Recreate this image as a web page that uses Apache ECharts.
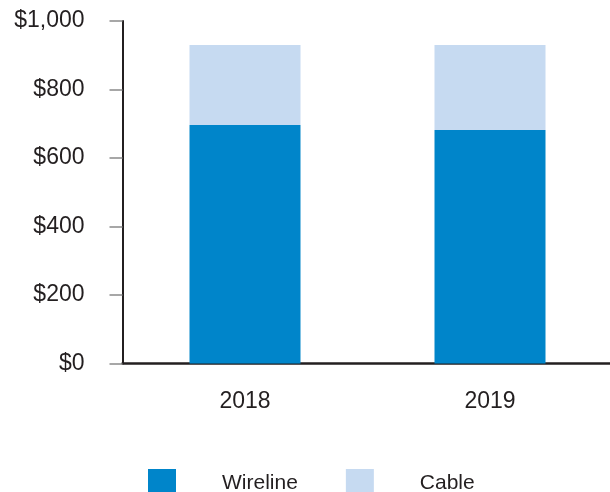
<!DOCTYPE html>
<html>
<head>
<meta charset="utf-8">
<script src="https://cdn.jsdelivr.net/npm/echarts@6/dist/echarts.min.js"></script>
<style>
  html, body { margin: 0; padding: 0; background: #ffffff; }
  #chart { width: 610px; height: 492px; }
</style>
</head>
<body>
<div id="chart"></div>
<script>
// Revenue by segment, in millions of dollars
const years = ['2018', '2019'];
const wireline = [696, 682];
const cable = [234, 248];
const yTicks = [0, 200, 400, 600, 800, 1000];

const textColor = '#231f20';
const font = '"Liberation Sans", Arial, Helvetica, sans-serif';

const chart = echarts.init(document.getElementById('chart'), null, { renderer: 'canvas' });

chart.setOption({
  animation: false,
  backgroundColor: '#ffffff',
  grid: {
    left: 122.5,
    width: 490,
    top: 21,
    bottom: 128.5,
    containLabel: false,
    outerBoundsMode: 'none'
  },
  legend: {
    left: 148,
    top: 469,
    padding: 0,
    itemWidth: 28,
    itemHeight: 28,
    itemGap: 48,
    icon: 'rect',
    data: ['Wireline', 'Cable'],
    textStyle: {
      color: textColor,
      fontFamily: font,
      fontSize: 21,
      padding: [0, 0, 0, 41]
    }
  },
  xAxis: {
    type: 'category',
    data: years,
    axisLine: { lineStyle: { color: textColor, width: 2.5 } },
    axisTick: { show: false },
    axisLabel: {
      color: textColor,
      fontFamily: font,
      fontSize: 23,
      margin: 27
    }
  },
  yAxis: {
    type: 'value',
    min: yTicks[0],
    max: yTicks[yTicks.length - 1],
    interval: yTicks[1] - yTicks[0],
    splitLine: { show: false },
    axisLine: { show: true, lineStyle: { color: textColor, width: 2 } },
    axisTick: { show: true, length: 13, lineStyle: { color: '#8a8a8a', width: 1.5 } },
    axisLabel: {
      color: textColor,
      fontFamily: font,
      fontSize: 23,
      margin: 38,
      formatter: function (v) {
        return '$' + v.toLocaleString('en-US');
      }
    }
  },
  series: [
    {
      name: 'Wireline',
      type: 'bar',
      stack: 'total',
      barWidth: 111,
      data: wireline,
      itemStyle: { color: '#0085ca' }
    },
    {
      name: 'Cable',
      type: 'bar',
      stack: 'total',
      barWidth: 111,
      data: cable,
      itemStyle: { color: '#c6daf1' }
    }
  ]
});
</script>
</body>
</html>
